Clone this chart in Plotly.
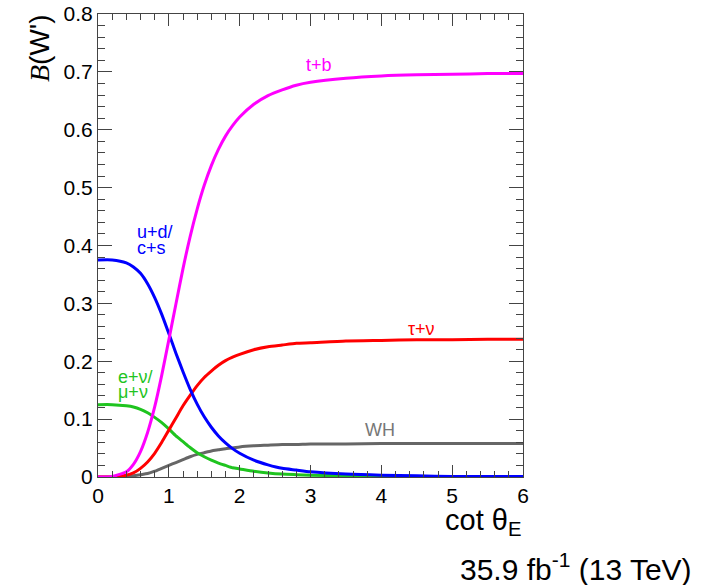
import plotly.graph_objects as go

# cot theta_E sample points
cot_theta = [0.0, 0.2, 0.4, 0.5, 0.6, 0.7, 0.8, 0.9, 1.0, 1.1, 1.2, 1.3, 1.4, 1.5,
             1.6, 1.7, 1.8, 1.9, 2.0, 2.2, 2.4, 2.6, 2.8, 3.0, 3.5, 4.0, 4.5, 5.0,
             5.5, 6.0]

# branching fractions
br_ud = [0.375, 0.375, 0.370, 0.363, 0.352, 0.334, 0.310, 0.281, 0.248, 0.214,
         0.182, 0.152, 0.126, 0.104, 0.086, 0.071, 0.059, 0.049, 0.041, 0.029,
         0.021, 0.015, 0.012, 0.009, 0.005, 0.003, 0.002, 0.001, 0.001, 0.001]
br_enu = [0.125, 0.125, 0.123, 0.121, 0.117, 0.111, 0.103, 0.094, 0.083, 0.071,
          0.061, 0.051, 0.042, 0.035, 0.029, 0.024, 0.020, 0.016, 0.014, 0.010,
          0.007, 0.005, 0.004, 0.003, 0.002, 0.001, 0.001, 0.000, 0.000, 0.000]
br_tb = [0.000, 0.001, 0.009, 0.022, 0.044, 0.077, 0.121, 0.176, 0.237, 0.299,
         0.360, 0.415, 0.463, 0.504, 0.538, 0.566, 0.589, 0.607, 0.622, 0.644,
         0.659, 0.669, 0.677, 0.682, 0.689, 0.693, 0.695, 0.696, 0.697, 0.697]
br_taunu = [0.000, 0.000, 0.003, 0.007, 0.015, 0.026, 0.041, 0.060, 0.081, 0.102,
            0.123, 0.141, 0.158, 0.172, 0.183, 0.193, 0.201, 0.207, 0.212, 0.220,
            0.225, 0.228, 0.231, 0.232, 0.235, 0.236, 0.237, 0.237, 0.238, 0.238]
br_wh = [0.000, 0.000, 0.001, 0.002, 0.004, 0.006, 0.010, 0.015, 0.020, 0.025,
         0.030, 0.035, 0.039, 0.042, 0.045, 0.047, 0.049, 0.050, 0.052, 0.054,
         0.055, 0.056, 0.056, 0.057, 0.057, 0.058, 0.058, 0.058, 0.058, 0.058]

x_tickvals = [0, 1, 2, 3, 4, 5, 6]
x_ticktext = ["0", "1", "2", "3", "4", "5", "6"]
y_tickvals = [0, 0.1, 0.2, 0.3, 0.4, 0.5, 0.6, 0.7, 0.8]
y_ticktext = ["0", "0.1", "0.2", "0.3", "0.4", "0.5", "0.6", "0.7", "0.8"]

series = [
    ("WH", br_wh, "#666666"),
    ("e+nu", br_enu, "#1fc41f"),
    ("tau+nu", br_taunu, "#ff0000"),
    ("u+d", br_ud, "#0000ff"),
    ("t+b", br_tb, "#ff00ff"),
]

fig = go.Figure()
for name, vals, col in series:
    fig.add_trace(go.Scatter(x=cot_theta, y=vals, mode="lines", name=name,
                             line=dict(color=col, width=3, shape="spline", smoothing=0.6),
                             showlegend=False, hoverinfo="skip"))

L, R, T, B = 98, 179, 14, 108
W, H = 702, 585
pw, ph = W - L - R, H - T - B


def px2data(px, py):
    return (px - L) / pw * 6.0, (H - B - py) / ph * 0.8


def px2paper(px, py):
    return (px - L) / pw, (H - B - py) / ph


font_main = "Liberation Sans, Arial, Helvetica, sans-serif"
axis_col = "#444444"

labels = [
    ("t+b", 318.5, 65, "center", "#ff00ff"),
    ("u+d/", 135, 232, "left", "#0000ff"),
    ("c+s", 135, 248, "left", "#0000ff"),
    ("τ+ν", 421.5, 329, "center", "#ff0000"),
    ("e+ν/", 116, 377, "left", "#1fc41f"),
    ("μ+ν", 116, 392, "left", "#1fc41f"),
    ("WH", 380, 430, "center", "#777777"),
]
annotations = []
for txt, px, py, anc, col in labels:
    xd, yd = px2data(px, py)
    annotations.append(dict(x=xd, y=yd, xref="x", yref="y", text=txt, showarrow=False,
                            xanchor=anc, yanchor="middle",
                            font=dict(size=18, color=col, family=font_main)))

# y title
xp, yp = px2paper(40, 12)
annotations.append(dict(x=xp, y=yp, xref="paper", yref="paper",
                        text="<span style='font-family:Liberation Serif'><i>B</i></span>(W')",
                        textangle=-90, showarrow=False, xanchor="center", yanchor="top",
                        font=dict(size=28, color="black", family=font_main)))
# x title
xp, yp = px2paper(523, 522)
annotations.append(dict(x=xp, y=yp, xref="paper", yref="paper",
                        text="cot θ<sub>E</sub>", showarrow=False,
                        xanchor="right", yanchor="middle",
                        font=dict(size=29, color="black", family=font_main)))
# lumi
xp, yp = px2paper(694, 567)
annotations.append(dict(x=xp, y=yp, xref="paper", yref="paper",
                        text="35.9 fb<sup>-1</sup> (13 TeV)", showarrow=False,
                        xanchor="right", yanchor="middle",
                        font=dict(size=30, color="black", family=font_main)))

fig.update_layout(
    width=W, height=H,
    margin=dict(l=L, r=R, t=T, b=B, pad=0, autoexpand=False),
    paper_bgcolor="white", plot_bgcolor="white",
    annotations=annotations,
    font=dict(family=font_main, color="black"),
)
fig.update_xaxes(range=[0, 6], tickvals=x_tickvals, ticktext=x_ticktext,
                 ticks="inside", ticklen=12, automargin=False,
                 tickwidth=1, tickcolor=axis_col, showline=True, linecolor=axis_col,
                 linewidth=1, mirror="allticks", showgrid=False, zeroline=False,
                 tickfont=dict(size=21, color="black"),
                 minor=dict(dtick=0.2, tick0=0, ticks="inside", ticklen=6,
                            tickcolor=axis_col, showgrid=False))
fig.update_yaxes(range=[0, 0.8], tickvals=y_tickvals, ticktext=y_ticktext,
                 ticks="inside", ticklen=14, automargin=False,
                 tickwidth=1, tickcolor=axis_col, showline=True, linecolor=axis_col,
                 linewidth=1, mirror="allticks", showgrid=False, zeroline=False,
                 tickfont=dict(size=21, color="black"),
                 minor=dict(dtick=0.02, tick0=0, ticks="inside", ticklen=7,
                            tickcolor=axis_col, showgrid=False))

fig.write_html("out.html")
